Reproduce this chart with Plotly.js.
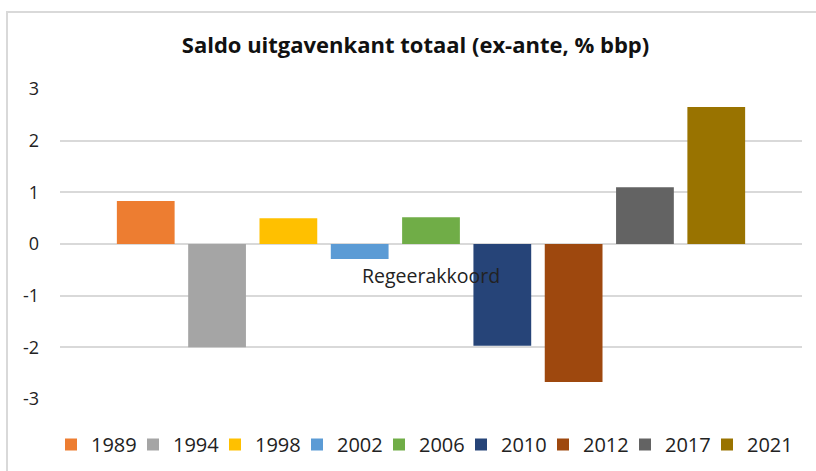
<!DOCTYPE html>
<html>
<head>
<meta charset="utf-8">
<script src="https://cdn.plot.ly/plotly-3.0.1.min.js"></script>
<style>
  html, body { margin: 0; padding: 0; background: #fff; }
  #chart { width: 816px; height: 471px; }
</style>
</head>
<body>
<div id="chart"></div>
<script>
// ---- data ----
const category = ['Regeerakkoord'];
const years = ['1989', '1994', '1998', '2002', '2006', '2010', '2012', '2017', '2021'];
const values = [0.83, -2.0, 0.5, -0.29, 0.52, -1.97, -2.67, 1.1, 2.65];
const colors = ['#ED7D31', '#A5A5A5', '#FFC000', '#5B9BD5', '#70AD47', '#264478', '#9E480E', '#636363', '#997300'];
const yTicks = [-3, -2, -1, 0, 1, 2, 3];
const titleText = 'Saldo uitgavenkant totaal (ex-ante, % bbp)';

// ---- layout geometry ----
const W = 816, H = 471;
const L = 60, R = 14, T = 89, B = 72;
const PW = W - L - R, PH = H - T - B;
const px2x = px => (px - L) / PW;
const py2y = py => (H - B - py) / PH;

const traces = years.map((yr, i) => ({
  type: 'bar',
  name: yr,
  x: category,
  y: [values[i]],
  marker: { color: colors[i], line: { width: 0 } },
  hoverinfo: 'name+y'
}));

const txt = '#222222';
const layout = {
  width: W, height: H,
  margin: { l: L, r: R, t: T, b: B, pad: 0 },
  paper_bgcolor: '#ffffff',
  plot_bgcolor: '#ffffff',
  font: { family: 'Open Sans, sans-serif', color: txt },
  title: {
    text: titleText,
    font: { family: 'Open Sans, sans-serif', size: 22, weight: 700, color: '#111111' },
    xref: 'container', yref: 'container',
    x: 415.5 / W, y: 1 - 45 / H, xanchor: 'center', yanchor: 'middle'
  },
  barmode: 'group',
  bargap: 0.135,
  bargroupgap: 0.19,
  showlegend: true,
  legend: {
    orientation: 'h',
    xref: 'container', yref: 'container',
    x: 51 / W, xanchor: 'left',
    y: 1 - 444.5 / H, yanchor: 'middle',
    entrywidth: 37,
    traceorder: 'normal',
    font: { family: 'Open Sans, sans-serif', size: 20, color: txt },
    bgcolor: 'rgba(0,0,0,0)', borderwidth: 0
  },
  xaxis: {
    type: 'category',
    range: [-0.5, 0.5],
    showticklabels: false,
    showgrid: false, zeroline: false, showline: false, ticks: '',
    fixedrange: true
  },
  yaxis: {
    range: [-3, 3],
    tickvals: yTicks,
    ticktext: yTicks.map(String),
    showgrid: true, gridcolor: '#d9d9d9', gridwidth: 2,
    zeroline: true, zerolinecolor: '#d9d9d9', zerolinewidth: 2,
    showline: false, ticks: '',
    ticklabelstandoff: 20,
    tickfont: { family: 'Open Sans, sans-serif', size: 18, color: txt },
    fixedrange: true
  },
  annotations: [{
    x: category[0], y: 0, xref: 'x', yref: 'y',
    text: category[0], showarrow: false,
    xanchor: 'center', yanchor: 'top', yshift: -16,
    font: { family: 'Open Sans, sans-serif', size: 19.5, color: txt }
  }],
  shapes: [
    { type: 'line', xref: 'paper', yref: 'paper', x0: px2x(6), x1: px2x(820), y0: py2y(12), y1: py2y(12),
      line: { color: '#d9d9d9', width: 2 } },
    { type: 'line', xref: 'paper', yref: 'paper', x0: px2x(7), x1: px2x(7), y0: py2y(11), y1: py2y(480),
      line: { color: '#d9d9d9', width: 2 } }
  ]
};

Plotly.newPlot('chart', traces, layout, { displayModeBar: false, staticPlot: true });
</script>
</body>
</html>
